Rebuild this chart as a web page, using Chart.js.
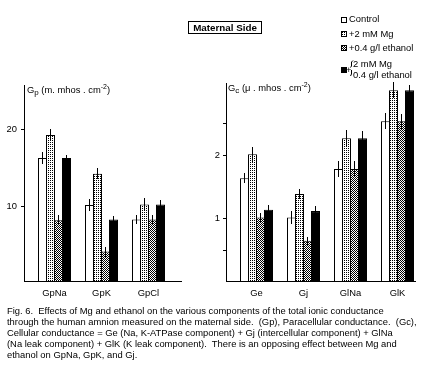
<!DOCTYPE html>
<html><head><meta charset="utf-8">
<script src="https://cdn.jsdelivr.net/npm/chart.js@4.4.1/dist/chart.umd.min.js"></script>
<style>
html,body{margin:0;padding:0;background:#fff;}
body{width:426px;height:385px;position:relative;overflow:hidden;font-family:"Liberation Sans",Arial,sans-serif;color:#000;}
canvas{position:absolute;left:0;top:0;}
#title{position:absolute;left:188px;top:21px;width:74px;height:13px;box-sizing:border-box;border:1px solid #000;font-weight:bold;font-size:9.8px;line-height:11px;text-align:center;white-space:nowrap;}
.ylab{position:absolute;font-size:9.4px;line-height:11px;white-space:pre;}
.ylab sub{font-size:8px;vertical-align:-2px;line-height:0;}
.ylab sup{font-size:7px;vertical-align:4px;line-height:0;}
#caption{position:absolute;left:7px;top:305px;font-size:9.4px;line-height:11px;white-space:pre;}
</style></head><body>
<canvas id="cL" width="426" height="385"></canvas>
<canvas id="cR" width="426" height="385"></canvas>
<div id="title">Maternal Side</div>
<div class="ylab" style="left:27px;top:84px">G<sub>p</sub> (m. mhos . cm<sup>-2</sup>)</div>
<div class="ylab" style="left:228px;top:82px">G<sub>c</sub> (μ . mhos . cm<sup>-2</sup>)</div>
<div id="caption">Fig. 6.  Effects of Mg and ethanol on the various components of the total ionic conductance
through the human amnion measured on the maternal side.  (Gp), Paracellular conductance.  (Gc),
Cellular conductance = Ge (Na, K-ATPase component) + Gj (intercellular component) + GlNa
(Na leak component) + GlK (K leak component).  There is an opposing effect between Mg and
ethanol on GpNa, GpK, and Gj.</div>
<script>
// ---- data ----
const seriesNames = ['Control', '+2 mM Mg', '+0.4 g/l ethanol', '+2 mM Mg +0.4 g/l ethanol'];
const bothLegendLines = ['2 mM Mg', '0.4 g/l ethanol'];

const gpCats = ['GpNa', 'GpK', 'GpCl'];
const gpControl = [16.3, 10.2, 8.3];
const gpMg = [19.3, 14.25, 10.25];
const gpEthanol = [8.2, 4.15, 8.3];
const gpBoth = [16.3, 8.3, 10.25];
const gpControlErr = [0.75, 0.75, 0.55];
const gpMgErr = [0.8, 0.7, 0.85];
const gpEthanolErr = [0.65, 0.65, 0.55];
const gpBothErr = [0.4, 0.5, 0.6];
const gpTicks = [10, 20];
const gpTickLabels = ['10', '20'];

const gcCats = ['Ge', 'Gj', 'GlNa', 'GlK'];
const gcControl = [1.64, 1.02, 1.785, 2.54];
const gcMg = [2.02, 1.39, 2.27, 3.03];
const gcEthanol = [1.02, 0.65, 1.785, 2.54];
const gcBoth = [1.14, 1.12, 2.27, 3.03];
const gcControlErr = [0.075, 0.1, 0.13, 0.13];
const gcMgErr = [0.12, 0.08, 0.13, 0.13];
const gcEthanolErr = [0.07, 0.06, 0.13, 0.12];
const gcBothErr = [0.08, 0.08, 0.11, 0.09];
const gcTicks = [0.5, 1, 2, 2.5];
const gcTickLabels = ['', '1', '2', ''];

// ---- styles ----
const FONT = '"Liberation Sans", Arial, sans-serif';
function makePattern(cells) {
  const c = document.createElement('canvas'); c.width = 2; c.height = 2;
  const x = c.getContext('2d');
  x.fillStyle = '#fff'; x.fillRect(0, 0, 2, 2);
  x.fillStyle = '#000'; cells.forEach(p => x.fillRect(p[0], p[1], 1, 1));
  return x.createPattern(c, 'repeat');
}
const fills = ['#ffffff', makePattern([[0, 0]]), makePattern([[0, 0], [1, 1]]), '#000000'];

const errorBars = {
  id: 'errorBars',
  afterDatasetsDraw(chart) {
    const ctx = chart.ctx, ys = chart.scales.y;
    ctx.save(); ctx.strokeStyle = '#000'; ctx.lineWidth = 1;
    chart.data.datasets.forEach((ds, k) => {
      chart.getDatasetMeta(k).data.forEach((el, i) => {
        const v = ds.data[i].y, e = ds.errors[i];
        const x = Math.round(el.x - 0.5) + 0.5;
        ctx.beginPath();
        ctx.moveTo(x, Math.round(ys.getPixelForValue(v + e)));
        ctx.lineTo(x, Math.round(ys.getPixelForValue(v - e)));
        ctx.stroke();
      });
    });
    ctx.restore();
  }
};

const legendBox = {
  id: 'legendBox',
  afterDraw(chart) {
    const ctx = chart.ctx;
    const ds = chart.data.datasets;
    const sqTop = [17, 31, 45, 67];
    const txtMid = [19.5, 34, 48];
    ctx.save();
    ctx.font = '9.4px ' + FONT; ctx.textBaseline = 'middle'; ctx.fillStyle = '#000';
    for (let k = 0; k < 4; k++) {
      ctx.fillStyle = ds[k].backgroundColor; ctx.fillRect(341, sqTop[k], 6, 6);
      ctx.strokeStyle = '#000'; ctx.lineWidth = 1; ctx.strokeRect(341.5, sqTop[k] + 0.5, 5, 5);
      ctx.fillStyle = '#000';
      if (k < 3) ctx.fillText(ds[k].label, 349, txtMid[k]);
    }
    ctx.fillText('+', 346, 70);
    ctx.beginPath();
    ctx.moveTo(353, 60.5); ctx.lineTo(351.5, 62); ctx.lineTo(351.5, 66); ctx.lineTo(350.5, 67.5);
    ctx.moveTo(351.5, 70); ctx.lineTo(351.5, 74); ctx.lineTo(350.5, 76);
    ctx.stroke();
    ctx.fillText(bothLegendLines[0], 353, 64.5);
    ctx.fillText(bothLegendLines[1], 353, 75);
    ctx.restore();
  }
};

function makeChart(id, cats, series, errs, yTicks, yLabels, cfg, plugins) {
  const datasets = series.map((vals, k) => ({
    label: seriesNames[k],
    data: vals.map((v, i) => ({ x: i, y: v })),
    errors: errs[k],
    backgroundColor: fills[k],
    borderColor: '#000',
    borderWidth: 1,
    categoryPercentage: 32 / 47,
    barPercentage: 9 / 8
  }));
  return new Chart(document.getElementById(id), {
    type: 'bar',
    data: { datasets },
    plugins: plugins,
    options: {
      responsive: false, animation: false, events: [],
      layout: { padding: cfg.padding },
      plugins: { legend: { display: false }, tooltip: { enabled: false } },
      scales: {
        x: {
          type: 'linear', min: cfg.xmin, max: cfg.xmax, offset: false,
          afterBuildTicks: s => { s.ticks = cats.map((c, i) => ({ value: i })); },
          afterFit: s => { s.height = 30; },
          ticks: { autoSkip: false, maxRotation: 0, padding: 7, color: '#000',
                   font: { family: FONT, size: 9.4 }, callback: (v, i) => cats[i] },
          grid: { display: false, drawTicks: false },
          border: { display: true, color: '#000', width: 1 }
        },
        y: {
          type: 'linear', min: cfg.ymin, max: cfg.ymax,
          afterBuildTicks: s => { s.ticks = yTicks.map(v => ({ value: v })); },
          afterFit: s => { s.width = 20; },
          ticks: { padding: cfg.tickPad, color: '#000', font: { family: FONT, size: 9.4 },
                   callback: (v, i) => yLabels[i] },
          grid: { display: true, drawOnChartArea: false, drawTicks: true, tickLength: 3, color: '#000' },
          border: { display: true, color: '#000', width: 1 }
        }
      }
    }
  });
}

// left chart: area x 24..181, y 85..281
makeChart('cL', gpCats, [gpControl, gpMg, gpEthanol, gpBoth],
  [gpControlErr, gpMgErr, gpEthanolErr, gpBothErr], gpTicks, gpTickLabels,
  { padding: { left: 4, right: 426 - 181, top: 85, bottom: 385 - 281 - 30 },
    xmin: -30.5 / 47, xmax: -30.5 / 47 + 157 / 47,
    ymin: (283.5 - 281) / 7.7, ymax: (283.5 - 85) / 7.7, tickPad: 4 },
  [errorBars]);

// right chart: area x 226..415, y 83..281
makeChart('cR', gcCats, [gcControl, gcMg, gcEthanol, gcBoth],
  [gcControlErr, gcMgErr, gcEthanolErr, gcBothErr], gcTicks, gcTickLabels,
  { padding: { left: 206, right: 426 - 415, top: 83, bottom: 385 - 281 - 30 },
    xmin: -30.5 / 47, xmax: -30.5 / 47 + 189 / 47,
    ymin: 1 / 63.3, ymax: (282 - 83) / 63.3, tickPad: 3 },
  [errorBars, legendBox]);
</script>
</body></html>
